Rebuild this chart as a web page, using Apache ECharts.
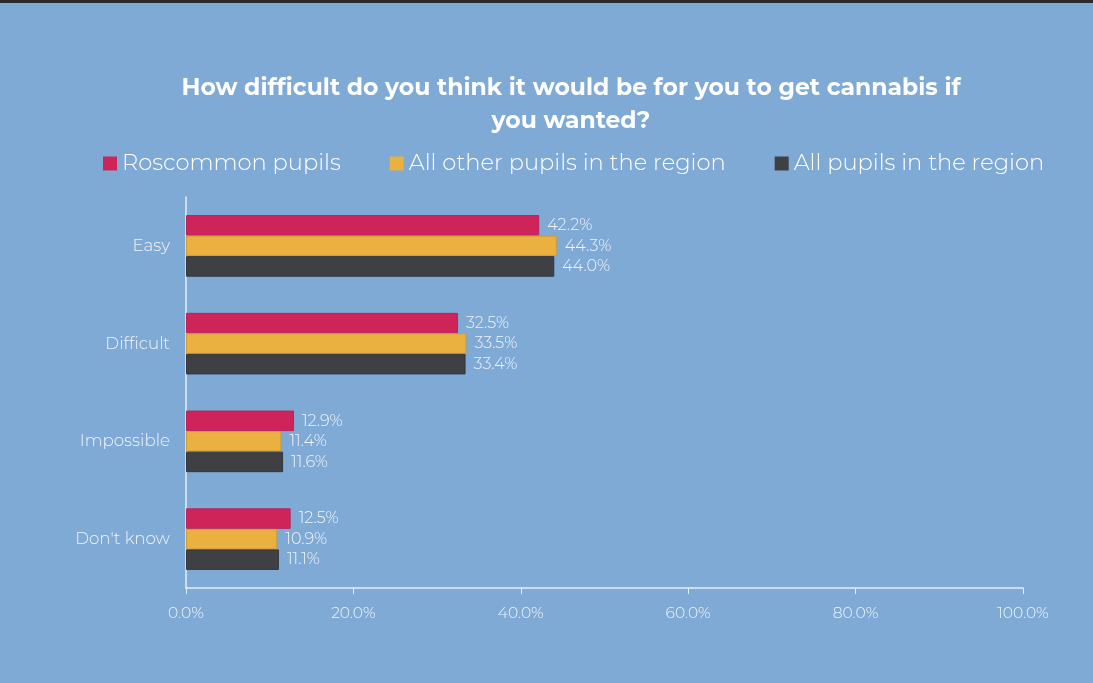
<!DOCTYPE html>
<html>
<head>
<meta charset="utf-8">
<script src="https://cdn.jsdelivr.net/npm/echarts@6/dist/echarts.min.js"></script>
<style>
html,body{margin:0;padding:0;background:#7FAAD5;}
#top{position:absolute;left:0;top:0;width:1093px;height:3px;background:#2b2b2d;}
#chart{position:absolute;left:0;top:3px;width:1093px;height:680px;}
</style>
</head>
<body>
<div id="top"></div>
<div id="chart"></div>
<script>
const titleText = 'How difficult do you think it would be for you to get cannabis if\nyou wanted?';
const categories = ['Easy', 'Difficult', 'Impossible', "Don't know"];
const seriesNames = ['Roscommon pupils', 'All other pupils in the region', 'All pupils in the region'];
const roscommon = [42.2, 32.5, 12.9, 12.5];
const otherPupils = [44.3, 33.5, 11.4, 10.9];
const allPupils = [44.0, 33.4, 11.6, 11.1];
const xTicks = [0, 20, 40, 60, 80, 100];

const colors = ['#CE245A', '#EAB040', '#3F4044'];
const borders = ['#b8235a', '#c99c45', '#35373c'];
const dataSets = [roscommon, otherPupils, allPupils];
const font = 'Montserrat, "Open Sans", "DejaVu Sans", sans-serif';

const chart = echarts.init(document.getElementById('chart'), null, {renderer: 'canvas'});
chart.setOption({
  backgroundColor: '#7FAAD5',
  animation: false,
  title: {
    text: titleText,
    left: 566, top: 64, textAlign: 'center',
    textStyle: {color: '#ffffff', fontSize: 23.5, fontWeight: 'bold', fontFamily: font, lineHeight: 33}
  },
  legend: {
    top: 144, left: 98,
    itemWidth: 14, itemHeight: 14, itemGap: 49,
    icon: 'rect',
    itemStyle: {borderWidth: 0},
    textStyle: {color: '#ffffff', fontSize: 22.6, fontFamily: font, fontWeight: 300, padding: [0,0,0,0]},
    data: seriesNames
  },
  grid: {left: 186, right: 70, top: 194, bottom: 95, containLabel: false},
  xAxis: {
    type: 'value', min: 0, max: 100, interval: 20,
    axisLine: {show: true, lineStyle: {color: '#e6eef7', width: 1.5}},
    axisTick: {show: true, length: 6, lineStyle: {color: '#e6eef7'}},
    splitLine: {show: false},
    axisLabel: {color: '#f0f4fa', fontSize: 15.5, fontWeight: 300, fontFamily: font, margin: 17,
      formatter: v => xTicks.includes(v) ? v.toFixed(1) + '%' : ''}
  },
  yAxis: {
    type: 'category', data: categories, inverse: true,
    axisLine: {show: true, lineStyle: {color: '#e6eef7', width: 1.5}},
    axisTick: {show: false},
    axisLabel: {color: '#f0f4fa', fontSize: 16.7, fontWeight: 300, fontFamily: font, margin: 16}
  },
  series: dataSets.map((d, i) => ({
    name: seriesNames[i], type: 'bar', data: d,
    barGap: '0%', barCategoryGap: '37%',
    itemStyle: {color: colors[i], borderColor: borders[i], borderWidth: 1},
    label: {show: true, position: 'right', distance: 8, color: '#f0f4fa', fontSize: 16, fontWeight: 300, fontFamily: font,
      formatter: p => p.value.toFixed(1) + '%'}
  }))
});
</script>
</body>
</html>
